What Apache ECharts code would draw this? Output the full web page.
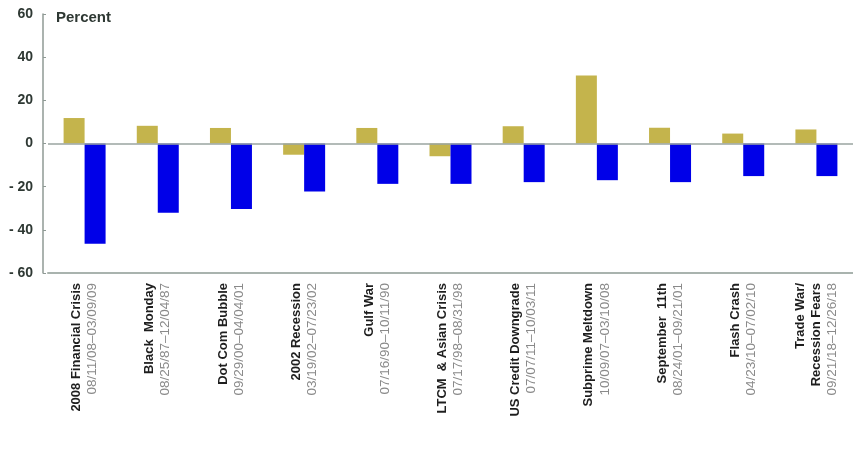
<!DOCTYPE html>
<html><head><meta charset="utf-8">
<script src="https://cdn.jsdelivr.net/npm/echarts@6/dist/echarts.min.js"></script>
<style>html,body{margin:0;padding:0;background:#fff}#c{width:853px;height:455px}</style>
</head><body><div id="c"></div>
<script>
var eventNames = ['2008 Financial Crisis','Black  Monday','Dot Com Bubble','2002 Recession','Gulf War','LTCM  & Asian Crisis','US Credit Downgrade','Subprime Meltdown','September  11th','Flash Crash','Trade War/\nRecession Fears'];
var eventDates = ['08/11/08\u201303/09/09','08/25/87\u201312/04/87','09/29/00\u201304/04/01','03/19/02\u201307/23/02','07/16/90\u201310/11/90','07/17/98\u201308/31/98','07/07/11\u201310/03/11','10/09/07\u201303/10/08','08/24/01\u201309/21/01','04/23/10\u201307/02/10','09/21/18\u201312/26/18'];
var goldValues = [11.8, 8.2, 7.2, -5.2, 7.2, -5.9, 8.0, 31.5, 7.3, 4.6, 6.5];
var equityValues = [-46.5, -32.1, -30.3, -22.2, -18.7, -18.7, -17.9, -17.0, -17.9, -15.1, -15.1];
var yTicks = [-60, -40, -20, 0, 20, 40, 60];

var cats = eventNames.map(function(n, i){ return n + '|' + eventDates[i]; });
var chart = echarts.init(document.getElementById('c'));
chart.setOption({
  animation: false,
  title: { text: 'Percent', left: 51, top: 5, textStyle: { fontFamily: 'Liberation Sans', fontWeight: 'bold', fontSize: 15, color: '#2e3833' } },
  grid: { left: 48, right: -4, top: 14, bottom: 182, containLabel: false },
  xAxis: {
    type: 'category', data: cats,
    axisLine: { onZero: false, lineStyle: { color: '#a9b3ae', width: 2 } },
    axisTick: { show: false },
    axisLabel: {
      interval: 0, rotate: 90, margin: 10,
      formatter: function(v){
        var p = v.split('|');
        var lines = p[0].split('\n').map(function(s){ return '{n|' + s + '}'; });
        lines.push('{d|' + p[1] + '}');
        return lines.join('\n');
      },
      rich: {
        n: { fontFamily: 'Liberation Sans', fontWeight: 'bold', fontSize: 13, color: '#1e1e1e', lineHeight: 16 },
        d: { fontFamily: 'Liberation Sans', fontSize: 13.5, color: '#8a8a8a', lineHeight: 16 }
      }
    }
  },
  yAxis: {
    type: 'value', min: -60, max: 60, interval: 20, offset: 5,
    axisLine: { show: true, lineStyle: { color: '#8f9a95', width: 1.5 } },
    axisTick: { show: true, inside: true, length: 3, lineStyle: { color: '#8f9a95' } },
    splitLine: { show: false },
    axisLabel: {
      margin: 10, fontFamily: 'Liberation Sans', fontWeight: 'bold', fontSize: 14, color: '#2e3833',
      formatter: function(v){ return yTicks.indexOf(v) >= 0 ? (v < 0 ? '- ' + Math.abs(v) : String(v)) : ''; }
    }
  },
  series: [
    { type: 'bar', name: 'Gold', data: goldValues, barWidth: 21, barGap: '0%', itemStyle: { color: '#c4b44c' },
      markLine: { silent: true, symbol: 'none', label: { show: false }, lineStyle: { color: '#9aa5a0', width: 1.5, type: 'solid' }, data: [{ yAxis: 0 }] } },
    { type: 'bar', name: 'Equities', data: equityValues, barWidth: 21, barGap: '0%', itemStyle: { color: '#0000e8' } }
  ]
});
</script></body></html>
